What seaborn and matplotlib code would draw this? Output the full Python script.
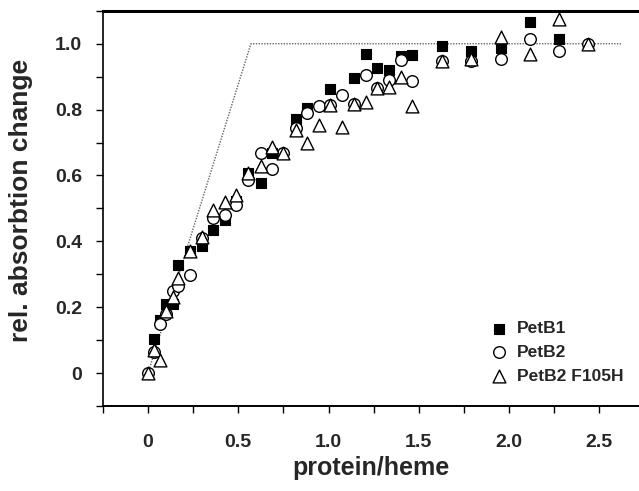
import numpy as np
import pandas as pd
import matplotlib
matplotlib.use("Agg")
import matplotlib.pyplot as plt
import seaborn as sns
from matplotlib.ticker import MultipleLocator, FixedLocator

# ---- data ----
petb1_x = [0.035, 0.066, 0.10, 0.137, 0.168, 0.23, 0.30, 0.36, 0.426, 0.49, 0.556, 0.624,
           0.685, 0.82, 0.882, 1.008, 1.14, 1.207, 1.27, 1.336, 1.40, 1.465, 1.626, 1.79,
           1.955, 2.115, 2.277]
petb1_y = [0.103, 0.16, 0.21, 0.21, 0.327, 0.37, 0.385, 0.436, 0.465, 0.522, 0.607, 0.577,
           0.668, 0.772, 0.806, 0.864, 0.896, 0.97, 0.925, 0.92, 0.964, 0.967, 0.994, 0.979,
           0.986, 1.067, 1.014]

petb2_x = [0.0, 0.035, 0.066, 0.10, 0.137, 0.168, 0.23, 0.30, 0.36, 0.426, 0.49, 0.556,
           0.624, 0.685, 0.75, 0.82, 0.882, 0.947, 1.008, 1.076, 1.14, 1.207, 1.27, 1.336,
           1.40, 1.465, 1.626, 1.79, 1.955, 2.115, 2.277, 2.44]
petb2_y = [0.0, 0.065, 0.15, 0.18, 0.25, 0.264, 0.297, 0.41, 0.47, 0.48, 0.51, 0.587,
           0.668, 0.62, 0.667, 0.745, 0.79, 0.81, 0.815, 0.845, 0.817, 0.905, 0.865, 0.89,
           0.95, 0.888, 0.948, 0.948, 0.954, 1.014, 0.979, 1.0]

f105h_x = [0.0, 0.035, 0.066, 0.10, 0.137, 0.168, 0.23, 0.30, 0.36, 0.426, 0.49, 0.556,
           0.624, 0.685, 0.75, 0.82, 0.882, 0.947, 1.008, 1.076, 1.14, 1.207, 1.27, 1.336,
           1.40, 1.465, 1.626, 1.79, 1.955, 2.115, 2.277, 2.44]
f105h_y = [0.0, 0.07, 0.041, 0.19, 0.23, 0.29, 0.37, 0.413, 0.494, 0.52, 0.54, 0.607,
           0.628, 0.686, 0.667, 0.738, 0.70, 0.754, 0.815, 0.746, 0.817, 0.822, 0.865, 0.868,
           0.898, 0.812, 0.948, 0.955, 1.021, 0.969, 1.075, 1.0]

stoich_x = [0.0, 0.57, 2.62]
stoich_y = [0.0, 1.0, 1.0]

series_names = ["PetB1", "PetB2", "PetB2 F105H"]
xticks = [0, 0.5, 1.0, 1.5, 2.0, 2.5]
xtick_labels = ["0", "0.5", "1.0", "1.5", "2.0", "2.5"]
yticks = [0, 0.2, 0.4, 0.6, 0.8, 1.0]
ytick_labels = ["0", "0.2", "0.4", "0.6", "0.8", "1.0"]

# ---- style ----
sns.set_style("ticks")
plt.rcParams["font.family"] = ["Liberation Sans", "DejaVu Sans"]
plt.rcParams["font.weight"] = "bold"

fig = plt.figure(figsize=(6.39, 4.91), dpi=100)
ax = fig.add_axes([0.161, 0.173, 0.839, 0.805])

line_df = pd.DataFrame({"x": stoich_x, "y": stoich_y})
sns.lineplot(data=line_df, x="x", y="y", ax=ax, color="#666666", lw=1.0,
             linestyle=(0, (1, 1)), zorder=1, legend=False)

df1 = pd.DataFrame({"x": petb1_x, "y": petb1_y})
df2 = pd.DataFrame({"x": petb2_x, "y": petb2_y})
df3 = pd.DataFrame({"x": f105h_x, "y": f105h_y})

sns.scatterplot(data=df1, x="x", y="y", ax=ax, marker="s", s=55, color="black",
                edgecolor="black", linewidth=0.8, label=series_names[0], zorder=3)
sns.scatterplot(data=df2, x="x", y="y", ax=ax, marker="o", s=70, color="white",
                edgecolor="black", linewidth=1.0, label=series_names[1], zorder=4)
sns.scatterplot(data=df3, x="x", y="y", ax=ax, marker="^", s=85, color="white",
                edgecolor="black", linewidth=1.0, label=series_names[2], zorder=5)

ax.set_xlim(-0.25, 2.72)
ax.set_ylim(-0.1, 1.1)

ax.xaxis.set_major_locator(FixedLocator(xticks))
ax.set_xticklabels(xtick_labels)
ax.xaxis.set_minor_locator(MultipleLocator(0.25))
ax.yaxis.set_major_locator(FixedLocator(yticks))
ax.set_yticklabels(ytick_labels)
ax.yaxis.set_minor_locator(MultipleLocator(0.1))

ax.tick_params(axis="both", which="major", direction="out", length=5, width=1.0,
               labelsize=14, pad=15, color="black")
ax.tick_params(axis="y", which="major", pad=10)
ax.tick_params(axis="both", which="minor", direction="out", length=5, width=1.0, color="black")
for lab in ax.get_xticklabels() + ax.get_yticklabels():
    lab.set_fontweight("bold")

ax.spines["right"].set_visible(False)
ax.spines["top"].set_visible(True)
ax.spines["top"].set_linewidth(2.2)
ax.spines["left"].set_linewidth(1.2)
ax.spines["bottom"].set_linewidth(1.4)
for s in ax.spines.values():
    s.set_color("black")

ax.set_xlabel("protein/heme", fontsize=18, fontweight="bold", labelpad=4)
ax.set_ylabel("rel. absorbtion change", fontsize=19, fontweight="bold")
ax.yaxis.set_label_coords(-0.13, 0.519)

leg = ax.legend(loc="lower right", bbox_to_anchor=(0.99, 0.03), frameon=False,
                prop={"weight": "bold", "size": 12.5}, handletextpad=0.4,
                labelspacing=0.5, borderaxespad=0.2, handlelength=1.2)

fig.savefig("out.png", dpi=100)
